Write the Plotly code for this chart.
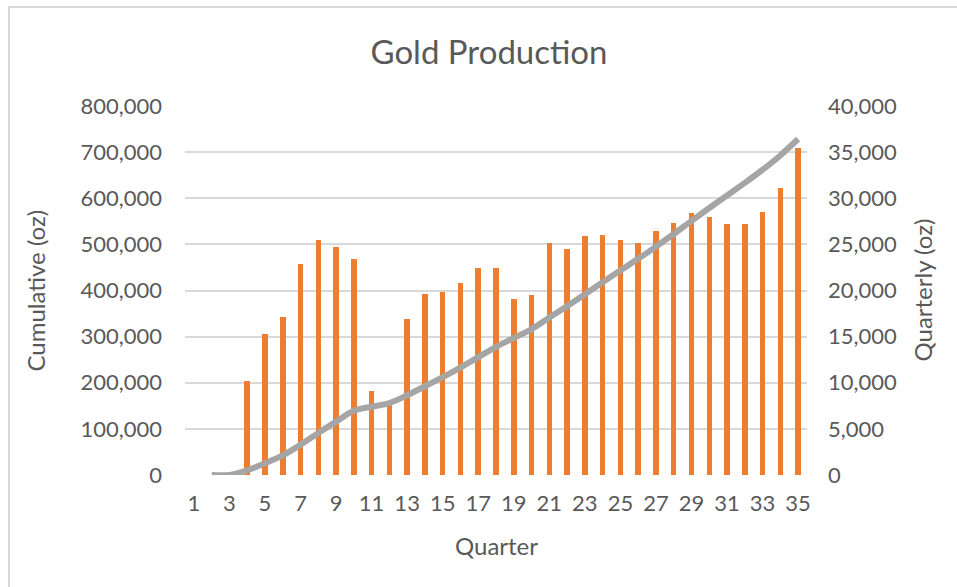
import plotly.graph_objects as go

# Quarterly gold output (oz), quarters 4-35 (quarters 1-3 had no production)
bar_quarters = list(range(4, 36))
quarterly_oz = [10200, 15250, 17150, 22900, 25500, 24700, 23400, 9100, 7700,
                16900, 19600, 19800, 20800, 22400, 22400, 19100, 19500, 25200,
                24500, 25900, 26000, 25500, 25200, 26500, 27300, 28400, 28000,
                27200, 27200, 28500, 31100, 35500]

# Running total (oz), quarters 2-35
line_quarters = list(range(2, 36))
cumulative_oz = [0, 0, 10200, 25450, 42600, 65500, 91000, 115700, 139100,
                 148200, 155900, 172800, 192400, 212200, 233000, 255400, 277800,
                 296900, 316400, 341600, 366100, 392000, 418000, 443500, 468700,
                 495200, 522500, 550900, 578900, 606100, 633300, 661800, 692900,
                 728400]

x_tick_vals = list(range(1, 36, 2))

TEXT = "#595959"
GRID = "#D9D9D9"
FONT = "Lato"

# plot-area geometry in pixels
W, H = 957, 587
L, R, T, B = 185, 807, 106, 475
PW, PH = R - L, B - T


def px_x(px):
    return (px - L) / PW


def px_y(py):
    return (B - py) / PH


fig = go.Figure()

fig.add_trace(go.Bar(
    x=bar_quarters, y=quarterly_oz, name="Quarterly",
    marker=dict(color="#ED7D31", line=dict(width=0)),
    width=0.31, yaxis="y",
))

fig.add_trace(go.Scatter(
    x=line_quarters, y=cumulative_oz, name="Cumulative",
    mode="lines", line=dict(color="#A5A5A5", width=6, shape="spline", smoothing=0.9),
    yaxis="y2",
))

fig.update_layout(
    width=W, height=H,
    margin=dict(l=L, r=W - R, t=T, b=H - B, pad=0),
    paper_bgcolor="white", plot_bgcolor="white",
    showlegend=False,
    font=dict(family=FONT, color=TEXT, size=22),
    title=dict(text="Gold Production", x=489 / W, xref="container", xanchor="center",
               y=1 - 52 / H, yref="container", yanchor="middle",
               font=dict(family=FONT, size=33, color=TEXT)),
    bargap=0,
    xaxis=dict(
        range=[0.5, 35.5], tickmode="array", tickvals=x_tick_vals,
        ticktext=[str(v) for v in x_tick_vals],
        showgrid=False, zeroline=False, showline=False, ticks="",
        ticklabelstandoff=13,
        tickfont=dict(family=FONT, size=22, color=TEXT),
    ),
    yaxis=dict(
        side="right", range=[0, 40000], dtick=5000, tick0=0, tickformat=",",
        showgrid=True, gridcolor=GRID, gridwidth=2, zeroline=False,
        showline=False, ticks="", ticklabelstandoff=20,
        tickfont=dict(family=FONT, size=22, color=TEXT),
    ),
    yaxis2=dict(
        side="left", overlaying="y", range=[0, 800000], dtick=100000, tick0=0,
        tickformat=",", showgrid=False, zeroline=False, showline=False,
        ticks="", ticklabelstandoff=22,
        tickfont=dict(family=FONT, size=22, color=TEXT),
    ),
    annotations=[
        dict(text="Cumulative (oz)", x=px_x(35), y=0.5, xref="paper", yref="paper",
             textangle=-90, showarrow=False, xanchor="center", yanchor="middle",
             font=dict(family=FONT, size=24, color=TEXT)),
        dict(text="Quarterly (oz)", x=px_x(922), y=0.5, xref="paper", yref="paper",
             textangle=-90, showarrow=False, xanchor="center", yanchor="middle",
             font=dict(family=FONT, size=24, color=TEXT)),
        dict(text="Quarter", x=0.5, y=px_y(545), xref="paper", yref="paper",
             showarrow=False, xanchor="center", yanchor="middle",
             font=dict(family=FONT, size=24, color=TEXT)),
    ],
    shapes=[
        # chart-area frame
        dict(type="rect", xref="paper", yref="paper",
             x0=px_x(9), x1=px_x(972), y0=px_y(600), y1=px_y(7),
             line=dict(color=GRID, width=2), fillcolor="rgba(0,0,0,0)", layer="below"),
    ],
)

fig.write_html("out.html")
